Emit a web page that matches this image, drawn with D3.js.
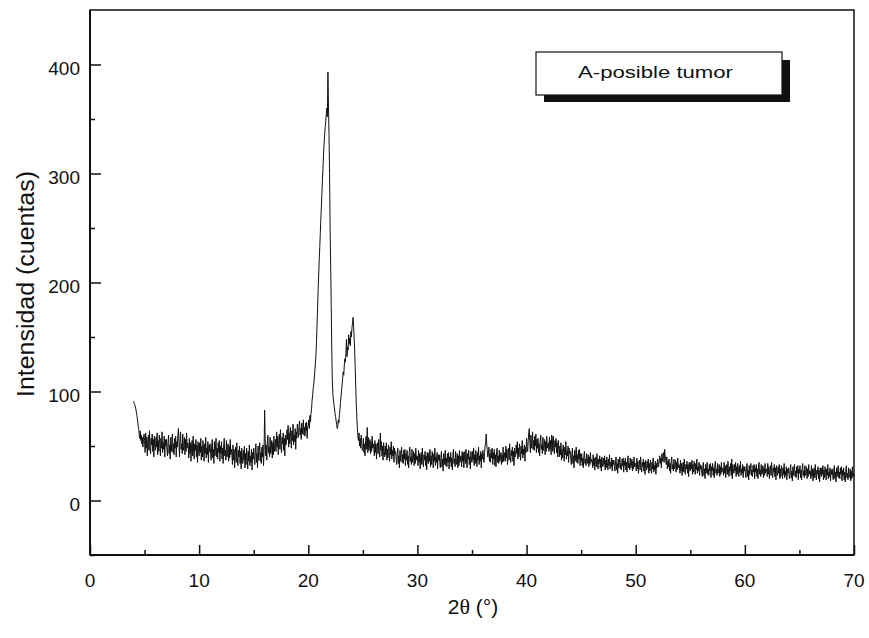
<!DOCTYPE html>
<html><head><meta charset="utf-8">
<script src="https://cdn.jsdelivr.net/npm/d3@7/dist/d3.min.js"></script>
<style>body{margin:0;background:#fff}svg{display:block}text{font-family:"Liberation Sans",Arial,sans-serif;fill:#111}</style>
</head><body>
<script>
// 2θ start and step (degrees) for the intensity samples
const xStart = 4.0;
const xStep = 0.05;
// Intensity (counts), one row per degree from 4° to 69.95°, then 70°
const intensity = [
91,89,88,86,84,81,78,74,70,66,62,57,64,55,60,52,58,49,56,61,
55,44,62,48,58,41,54,60,46,64,49,43,57,51,61,45,56,40,59,50,
46,58,49,62,42,55,45,60,52,41,57,48,63,44,53,47,59,40,56,50,
56,47,41,54,60,43,51,38,58,45,53,61,44,52,42,57,48,59,40,54,
49,60,66,54,40,57,63,47,52,43,61,46,50,58,42,56,45,62,48,53,
50,39,57,43,53,36,49,55,41,59,44,38,52,46,56,40,51,35,54,45,
41,53,44,57,37,50,40,55,47,36,52,43,58,39,48,42,54,35,51,45,
52,43,37,50,56,39,47,34,54,41,49,57,40,48,38,53,44,55,36,50,
43,54,38,48,34,51,57,41,46,37,55,40,44,52,36,50,39,56,42,47,
44,33,51,37,47,30,43,49,35,53,38,32,46,40,50,34,45,29,48,39,
34,46,37,50,30,43,33,48,40,29,45,36,51,32,41,35,47,28,44,38,
48,39,33,46,52,35,43,30,50,37,45,53,36,44,34,49,40,51,32,46,
83,57,41,51,37,54,60,44,49,40,58,43,47,55,39,53,42,59,45,50,
56,45,63,49,59,42,55,61,47,65,50,44,58,52,62,46,57,41,60,51,
53,65,56,69,49,62,52,67,59,48,64,55,70,51,60,54,66,47,63,57,
70,62,58,68,73,60,66,56,71,61,67,74,60,67,59,71,64,72,57,68,
68,74,66,78,72,80,84,92,97,103,106,112,119,126,133,145,160,176,192,206,
220,232,245,258,270,282,295,306,318,328,336,342,348,355,360,352,393,362,335,300,
250,215,180,140,110,98,92,88,84,80,77,73,70,66,68,74,71,79,83,90,
95,101,106,112,118,115,124,130,127,136,148,132,141,138,152,144,149,142,155,150,
158,163,168,160,150,138,122,104,88,76,66,58,55,62,50,57,48,60,52,46,
48,57,44,52,41,55,59,47,67,44,58,46,49,56,43,54,45,59,48,52,
49,41,55,44,52,38,49,53,43,56,45,40,62,46,54,41,50,37,53,45,
40,50,42,53,37,47,39,51,45,36,49,42,54,38,46,41,50,35,48,43,
45,38,33,43,48,34,41,30,46,36,42,49,35,42,34,46,38,47,32,43,
37,46,33,41,30,44,49,36,40,33,47,35,38,45,32,43,34,48,37,41,
40,32,46,35,43,29,40,44,33,48,36,31,42,37,45,32,41,28,44,36,
34,44,36,47,31,41,33,45,39,30,43,36,48,32,40,35,44,29,42,37,
42,35,30,40,45,31,38,27,43,33,39,46,32,39,31,43,35,44,29,40,
35,44,31,39,28,42,47,34,38,31,45,33,36,43,30,41,32,46,35,39,
41,31,45,36,44,30,39,45,34,47,35,30,43,38,46,33,40,29,45,37,
35,45,37,48,32,42,34,46,40,31,44,37,49,33,41,36,45,30,43,38,
46,39,35,44,50,53,61,52,46,40,43,49,36,43,35,47,39,48,33,44,
38,47,32,42,31,45,48,35,41,34,46,36,39,44,33,42,35,49,36,40,
44,36,50,39,47,33,44,48,37,52,40,35,46,41,49,36,45,32,48,40,
41,51,43,54,38,48,40,52,46,37,50,43,55,39,47,42,51,36,49,44,
57,49,45,55,62,66,53,44,60,48,54,63,47,55,46,59,50,61,44,56,
48,57,44,52,41,55,60,47,51,43,58,46,49,56,42,54,45,59,48,51,
53,45,58,47,55,42,60,57,45,59,48,43,55,49,57,44,53,40,55,48,
40,50,42,53,37,47,39,51,45,36,49,42,54,38,46,41,50,35,48,43,
45,38,33,43,48,34,41,30,46,36,42,49,35,42,34,46,38,47,32,43,
36,43,32,39,30,41,45,34,38,32,43,34,37,42,31,40,33,44,35,38,
37,30,42,32,39,28,36,40,31,43,33,29,38,34,41,30,38,27,40,34,
31,39,33,41,28,37,30,40,35,28,38,32,42,29,35,31,39,27,37,33,
37,31,27,36,40,28,34,25,38,30,35,40,29,34,28,38,32,39,26,36,
32,39,28,35,26,37,41,30,34,28,39,30,32,38,27,36,29,40,31,34,
34,27,39,29,36,25,33,37,28,40,30,26,35,31,38,27,35,24,37,31,
28,36,30,38,25,34,27,37,32,25,35,29,39,26,32,28,36,24,34,30,
38,33,31,37,41,34,39,30,43,36,40,44,35,47,41,37,33,40,29,36,
31,38,27,34,25,36,40,29,33,27,38,29,31,37,26,35,28,39,30,33,
32,25,37,27,34,23,31,35,26,38,28,24,33,29,36,25,33,22,35,29,
27,35,29,37,24,33,26,36,31,24,34,28,38,25,31,27,35,23,33,29,
32,26,22,31,35,23,29,20,33,25,30,35,24,29,23,33,27,34,21,31,
27,34,23,30,21,32,36,25,29,23,34,25,27,33,22,31,24,35,26,29,
30,23,35,25,32,21,29,33,24,36,26,22,31,27,34,23,38,20,33,27,
25,33,27,35,22,31,24,34,29,22,32,26,36,23,29,25,33,21,31,27,
31,25,21,30,34,22,28,19,32,24,29,34,23,28,22,32,26,33,20,30,
26,33,22,29,20,31,35,24,28,22,33,24,26,32,21,30,23,34,25,28,
29,22,34,24,31,20,28,32,23,35,25,21,30,26,33,22,30,19,32,26,
23,31,25,33,20,29,22,32,27,20,30,24,34,21,27,23,31,19,29,25,
30,24,20,29,33,21,27,18,31,23,28,33,22,27,21,31,25,32,19,29,
25,32,21,28,19,30,34,23,27,21,32,23,25,31,20,29,22,33,24,27,
27,20,32,22,29,18,26,30,21,33,23,19,28,24,31,20,28,17,30,24,
22,30,24,32,19,28,21,31,26,19,29,23,33,20,26,22,30,18,28,24,
29,23,19,28,32,20,26,17,30,22,27,32,21,26,20,30,24,31,18,28,
23,30,19,26,17,28,32,21,25,19,30,21,23,29,18,27,20,31,22,25,
22
];
const xMajorTicks = [0,10,20,30,40,50,60,70];
const xMinorTicks = [5,15,25,35,45,55,65];
const yMajorTicks = [0,100,200,300,400];
const yMinorTicks = [-50,50,150,250,350];
const xDomain = [0,70];
const yDomain = [-50,450];
const legendLabel = "A-posible tumor";
const yTitle = "Intensidad (cuentas)";

const W = 869, H = 638;
const L = 90, R = 854, T = 10, B = 555;
const svg = d3.select("body").append("svg").attr("width",W).attr("height",H);
const x = d3.scaleLinear().domain(xDomain).range([L,R]);
const y = d3.scaleLinear().domain(yDomain).range([B,T]);

const data = intensity.map((v,i)=>({t: +(xStart + i*xStep).toFixed(2), v}));

// data line
svg.append("path").datum(data)
  .attr("fill","none").attr("stroke","#111").attr("stroke-width",1)
  .attr("d", d3.line().x(d=>x(d.t)).y(d=>y(d.v)));

// frame
svg.append("rect").attr("x",L).attr("y",T).attr("width",R-L).attr("height",B-T)
  .attr("fill","none").attr("stroke","#111").attr("stroke-width",1.5);
svg.append("line").attr("x1",L).attr("x2",L).attr("y1",T).attr("y2",B)
  .attr("stroke","#111").attr("stroke-width",2);
svg.append("line").attr("x1",L).attr("x2",R).attr("y1",B).attr("y2",B)
  .attr("stroke","#111").attr("stroke-width",2);

// axes (inward ticks)
const gx = svg.append("g").attr("transform",`translate(0,${B})`)
  .call(d3.axisTop(x).tickValues(xMajorTicks).tickSize(10).tickFormat(""));
const gxm = svg.append("g").attr("transform",`translate(0,${B})`)
  .call(d3.axisTop(x).tickValues(xMinorTicks).tickSize(5).tickFormat(""));
const gy = svg.append("g").attr("transform",`translate(${L},0)`)
  .call(d3.axisRight(y).tickValues(yMajorTicks).tickSize(11).tickFormat(""));
const gym = svg.append("g").attr("transform",`translate(${L},0)`)
  .call(d3.axisRight(y).tickValues(yMinorTicks).tickSize(5).tickFormat(""));
[gx,gxm,gy,gym].forEach(g=>{g.select(".domain").remove(); g.selectAll("line").attr("stroke","#111").attr("stroke-width",1.5);});

// tick labels
svg.append("g").selectAll("text").data(xMajorTicks).join("text")
  .attr("x",d=>x(d)).attr("y",B+32).attr("text-anchor","middle")
  .attr("font-size",19).text(d=>d);
svg.append("g").selectAll("text").data(yMajorTicks).join("text")
  .attr("x",L-10).attr("y",d=>y(d)+10).attr("text-anchor","end")
  .attr("font-size",19).text(d=>d);

// titles
const xt = svg.append("text").attr("x",(L+R)/2 + 1).attr("y",614).attr("text-anchor","middle")
  .attr("font-size",21);
xt.append("tspan").text("2");
xt.append("tspan").attr("font-family","'Liberation Serif','DejaVu Serif',serif").attr("font-size",22).text("θ");
xt.append("tspan").text(" (°)");
svg.append("text").attr("transform",`translate(34,284) rotate(-90)`)
  .attr("text-anchor","middle").attr("font-size",23)
  .attr("textLength",226).attr("lengthAdjust","spacingAndGlyphs").text(yTitle);

// legend box with shadow
svg.append("rect").attr("x",544).attr("y",60).attr("width",246).attr("height",42).attr("fill","#111");
svg.append("rect").attr("x",536).attr("y",52).attr("width",246).attr("height",43)
  .attr("fill","#fff").attr("stroke","#111").attr("stroke-width",1.2);
svg.append("text").attr("x",578).attr("y",78).attr("font-size",16.5)
  .attr("textLength",155).attr("lengthAdjust","spacingAndGlyphs").text(legendLabel);
</script>
</body></html>
